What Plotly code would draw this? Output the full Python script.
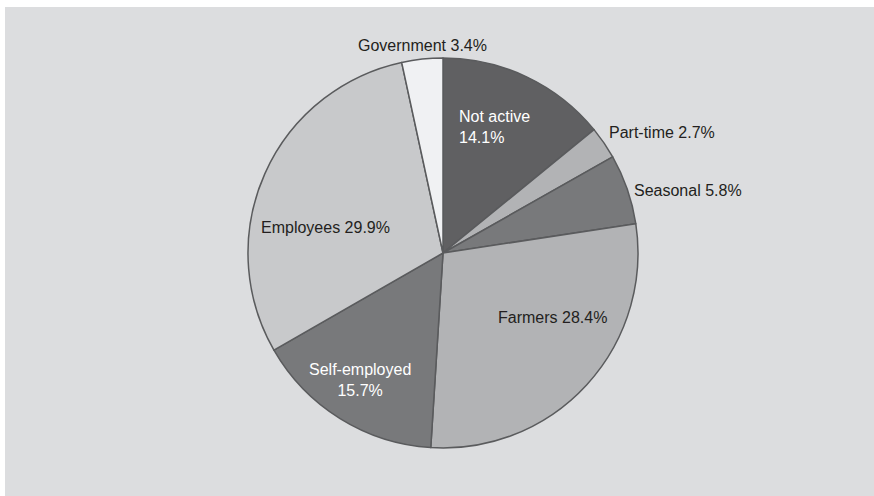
import plotly.graph_objects as go

categories = ["Not active", "Part-time", "Seasonal", "Farmers", "Self-employed", "Employees", "Government"]
values = [14.1, 2.7, 5.8, 28.4, 15.7, 29.9, 3.4]
label_breaks = [True, False, False, False, True, False, False]

colors = ["#606062", "#b2b3b5", "#78797b", "#b2b3b5", "#78797b", "#c8c9cb", "#f0f1f3"]
label_colors = ["#ffffff", "#231f20", "#231f20", "#231f20", "#ffffff", "#231f20", "#231f20"]
# label placement (pixel x, pixel y of text middle, anchor)
label_pos = [(457, 127, "left"), (607, 132, "left"), (632, 191, "left"), (552, 317, "center"),
             (359.5, 380, "center"), (325, 227, "center"), (422, 45.5, "center")]

W, H = 874, 496
cx, cy, r = 443, 253, 195
FONT = "Liberation Sans, Arial, Helvetica, sans-serif"

fig = go.Figure(go.Pie(
    labels=categories,
    values=values,
    textinfo="none",
    sort=False,
    direction="clockwise",
    rotation=0,
    marker=dict(colors=colors, line=dict(color="#5a5b5d", width=1.5)),
    domain=dict(x=[(cx - r) / W, (cx + r) / W], y=[1 - (cy + r) / H, 1 - (cy - r) / H]),
    showlegend=False,
    hoverinfo="label+percent",
))

annotations = []
for cat, val, brk, col, (px, py, anc) in zip(categories, values, label_breaks, label_colors, label_pos):
    txt = f"{cat}<br>{val:.1f}%" if brk else f"{cat} {val:.1f}%"
    annotations.append(dict(
        text=txt, x=px / W, y=1 - py / H, xref="paper", yref="paper",
        xanchor=anc, yanchor="middle", align=anc, showarrow=False,
        font=dict(family=FONT, size=16, color=col),
    ))

fig.update_layout(
    width=W, height=H,
    margin=dict(l=0, r=0, t=0, b=0),
    paper_bgcolor="#ffffff",
    annotations=annotations,
    shapes=[dict(type="rect", xref="paper", yref="paper",
                 x0=5 / W, x1=1.0, y0=0.0, y1=1 - 7 / H,
                 fillcolor="#dcdddf", line=dict(width=0), layer="below")],
)

fig.write_html("out.html")
